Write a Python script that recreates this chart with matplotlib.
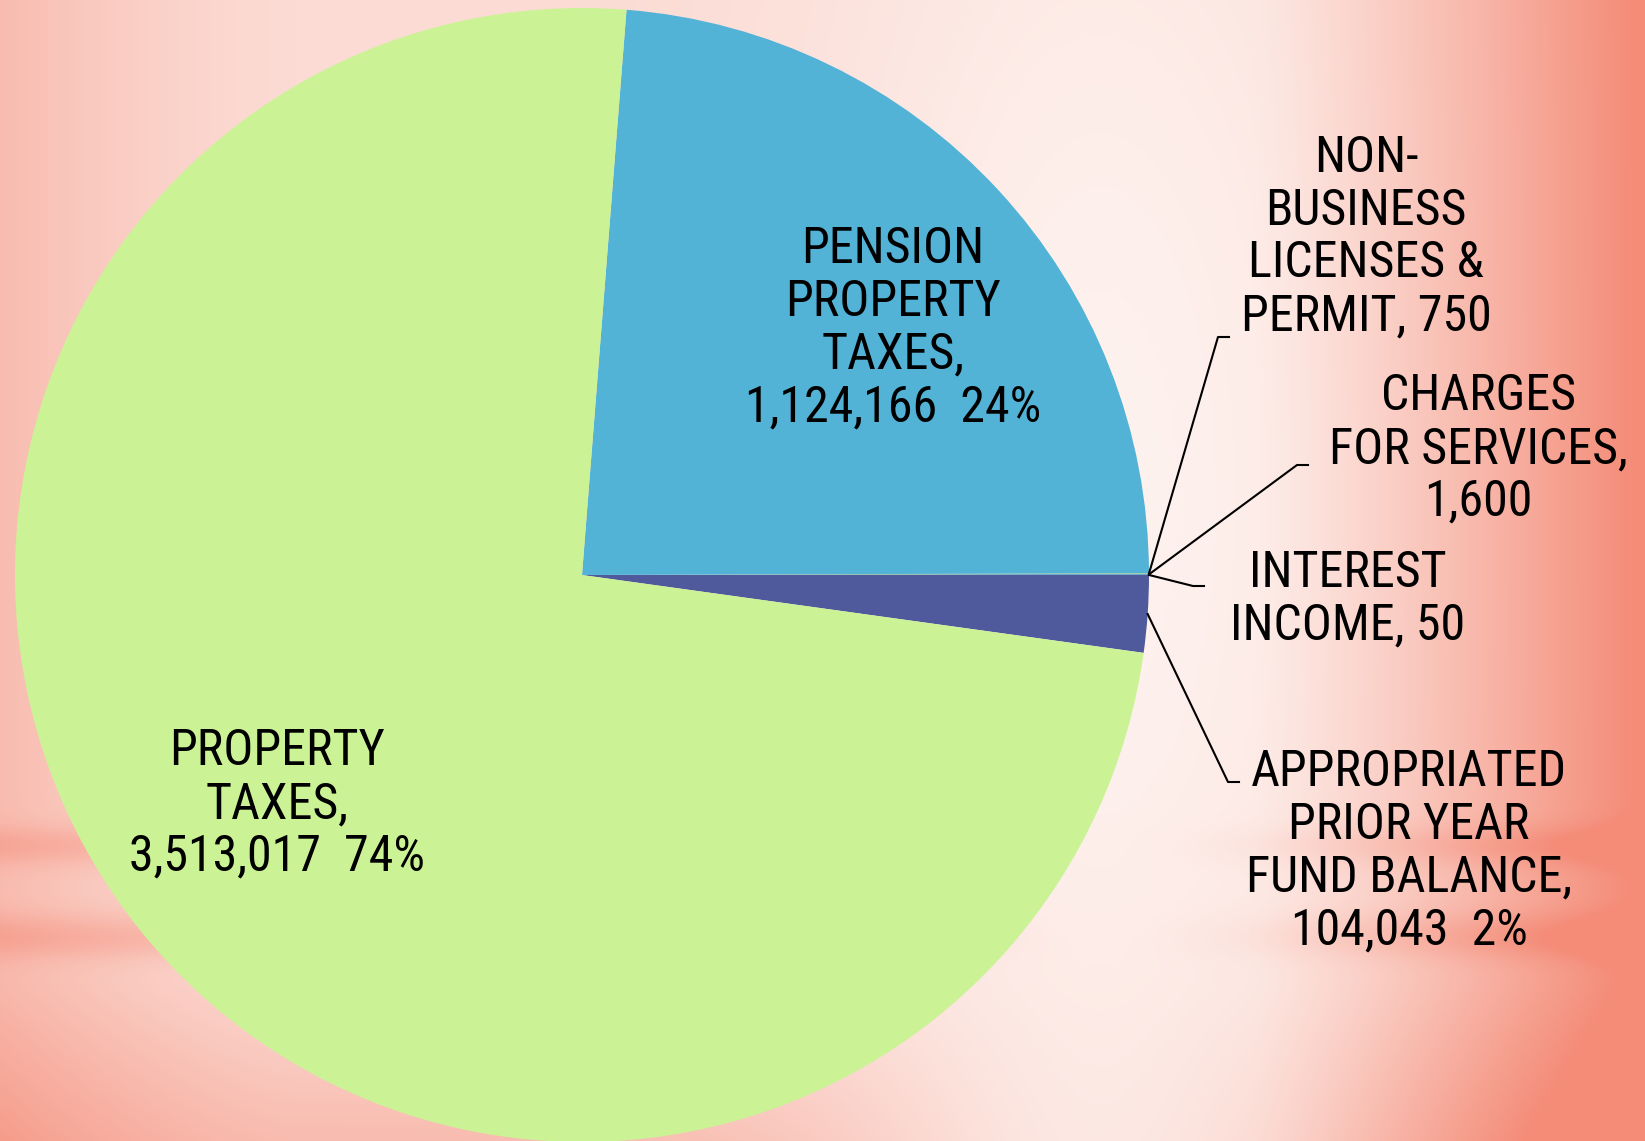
import numpy as np
import matplotlib.pyplot as plt
from matplotlib import font_manager

# Revenue sources (drawn counterclockwise from startangle)
categories = [
    "APPROPRIATED\nPRIOR YEAR\nFUND BALANCE",
    "INTEREST\nINCOME",
    "CHARGES\nFOR SERVICES",
    "NON-\nBUSINESS\nLICENSES &\nPERMIT",
    "PENSION\nPROPERTY\nTAXES",
    "PROPERTY\nTAXES",
]
values = [104043, 50, 1600, 750, 1124166, 3513017]
colors = ["#4E5A9B", "#8FC35A", "#6FA8C8", "#A3D06A", "#52B3D7", "#CBF396"]

# pixel geometry of the reference (pie centre and radius)
W, H = 1645, 1141
CX, CY, R = 582, 575, 567


def px(x, y):
    """Pixel position -> data coords (pie radius = 1)."""
    return (x - CX) / R, (CY - y) / R


# label layout: text centre and leader elbow (None = inside label)
label_pos = [(1409, 851), (1348, 599), (1478, 449), (1366, 237), (893, 328), (277, 804)]
elbows = [(1228, 782), (1193, 586), (1297, 465), (1218, 337), None, None]
elbow_len = 11

# pick a narrow sans if one is installed
fonts = font_manager.fontManager.ttflist
names = {f.name for f in fonts}
stretch = "normal"
fsize = 33
family = "Lato"
for cand in ["Roboto Condensed", "Liberation Sans Narrow", "Open Sans Condensed"]:
    if cand in names:
        family, fsize = cand, 36
        break
else:
    if any(f.name == "DejaVu Sans" and f.stretch == "condensed" for f in fonts):
        family, fsize, stretch = "DejaVu Sans", 32, "condensed"
plt.rcParams["font.family"] = [family, "DejaVu Sans"]


def make_background():
    yy, xx = np.mgrid[0:H, 0:W].astype(float)
    light = np.array([254, 244, 241]) / 255
    salmon = np.array([244, 140, 120]) / 255
    t = np.full((H, W), 0.24)
    t += 0.8 * np.clip((xx - 1250) / 395, 0, 1) ** 1.3
    t += 0.3 * np.clip((300 - xx) / 300, 0, 1) ** 1.5
    t -= 0.22 * np.exp(-((xx - 1100) ** 2) / (2 * 220 ** 2) - ((yy - 500) ** 2) / (2 * 600 ** 2))
    bands = (0.22 * np.exp(-((yy - 845) / 20) ** 2)
             + 0.25 * np.exp(-((yy - 937) / 24) ** 2)
             + 0.3 * np.clip((yy - 960) / 180, 0, 1))
    fade = 1 - np.exp(-((xx - 1100) / 260) ** 2)
    t += bands * fade
    t = np.clip(t, 0, 1)
    return light + (salmon - light) * t[..., None]


fig = plt.figure(figsize=(W / 100, H / 100), dpi=100)
bg = fig.add_axes([0, 0, 1, 1])
bg.imshow(make_background(), aspect="auto", extent=(0, W, H, 0))
bg.axis("off")

ax = fig.add_axes([0, 0, 1, 1])
ax.patch.set_alpha(0)
total = sum(values)
start = -360 * values[0] / total
wedges, _ = ax.pie(values, colors=colors, startangle=start, counterclock=True,
                   wedgeprops=dict(linewidth=0))

for w, cat, v, pos, elb in zip(wedges, categories, values, label_pos, elbows):
    pct = round(v / total * 100)
    if cat.startswith(("NON-", "INTEREST")):
        txt = f"{cat}, {v:,}"
    elif pct < 1:
        txt = f"{cat},\n{v:,}"
    else:
        txt = f"{cat},\n{v:,}  {pct}%"
    ax.text(*px(*pos), txt, ha="center", va="center", fontsize=fsize,
            fontstretch=stretch, linespacing=1.13, color="black")
    if elb is not None:
        mid = np.deg2rad((w.theta1 + w.theta2) / 2)
        x0, y0 = np.cos(mid), np.sin(mid)
        ex, ey = px(*elb)
        fx, _ = px(elb[0] + elbow_len, elb[1])
        ax.plot([x0, ex, fx], [y0, ey, ey], color="black", lw=1.5)

ax.set_xlim(-CX / R, (W - CX) / R)
ax.set_ylim(-(H - CY) / R, CY / R)
ax.set_aspect("auto")
ax.axis("off")

fig.savefig("out.png", dpi=100)
